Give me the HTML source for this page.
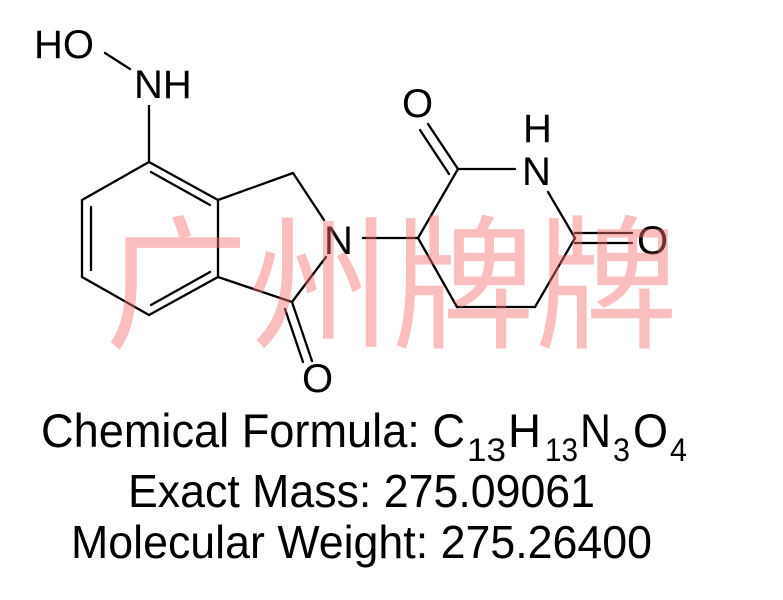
<!DOCTYPE html>
<html><head><meta charset="utf-8"><style>html,body{margin:0;padding:0;background:#fff}svg{display:block}</style></head>
<body>
<svg width="783" height="600" viewBox="0 0 783 600" xmlns="http://www.w3.org/2000/svg">
<g stroke="#000" stroke-width="2.3" fill="none" stroke-linecap="round">
<line x1="105" y1="53" x2="130" y2="69"/>
<line x1="149" y1="106" x2="149" y2="162"/>
<line x1="149" y1="162" x2="82" y2="200"/>
<line x1="82" y1="200" x2="82" y2="277"/>
<line x1="91" y1="207" x2="91" y2="270"/>
<line x1="82" y1="277" x2="149" y2="315"/>
<line x1="149" y1="315" x2="218" y2="277"/>
<line x1="151" y1="305" x2="210" y2="272"/>
<line x1="218" y1="277" x2="218" y2="200"/>
<line x1="218" y1="200" x2="149" y2="162"/>
<line x1="210" y1="205" x2="151" y2="172"/>
<line x1="218" y1="200" x2="293" y2="173"/>
<line x1="293" y1="173" x2="324" y2="220"/>
<line x1="218" y1="277" x2="292" y2="302"/>
<line x1="292" y1="302" x2="326" y2="257"/>
<line x1="292" y1="302" x2="312" y2="361"/>
<line x1="285" y1="309" x2="303" y2="362"/>
<line x1="363" y1="238" x2="418" y2="238"/>
<line x1="418" y1="238" x2="458" y2="169"/>
<line x1="458" y1="169" x2="515" y2="169"/>
<line x1="458" y1="169" x2="428" y2="124"/>
<line x1="449" y1="174" x2="420" y2="130"/>
<line x1="548" y1="192" x2="575" y2="238"/>
<line x1="575" y1="233" x2="632" y2="233"/>
<line x1="575" y1="243" x2="632" y2="243"/>
<line x1="575" y1="238" x2="535" y2="307"/>
<line x1="535" y1="307" x2="457" y2="307"/>
<line x1="457" y1="307" x2="418" y2="238"/>
</g>
<g font-family="Liberation Sans, Arial, sans-serif" font-size="40" fill="#000">
<text x="34" y="58">HO</text>
<text x="134" y="98">NH</text>
<text x="324" y="254">N</text>
<text x="302" y="392">O</text>
<text x="402" y="117">O</text>
<text x="523" y="142">H</text>
<text x="522" y="185">N</text>
<text x="637" y="254">O</text>
</g>
<g font-family="Liberation Sans, Arial, sans-serif" fill="#000">
<text x="41" y="447" font-size="47" textLength="424" lengthAdjust="spacingAndGlyphs">Chemical Formula: C</text>
<text x="467" y="461" font-size="32" textLength="39" lengthAdjust="spacingAndGlyphs">13</text>
<text x="508" y="447" font-size="47" textLength="33" lengthAdjust="spacingAndGlyphs">H</text>
<text x="545" y="461" font-size="32" textLength="33" lengthAdjust="spacingAndGlyphs">13</text>
<text x="580" y="447" font-size="47" textLength="31" lengthAdjust="spacingAndGlyphs">N</text>
<text x="613" y="461" font-size="32" textLength="17" lengthAdjust="spacingAndGlyphs">3</text>
<text x="633" y="447" font-size="47" textLength="35" lengthAdjust="spacingAndGlyphs">O</text>
<text x="670" y="461" font-size="32" textLength="17" lengthAdjust="spacingAndGlyphs">4</text>
<text x="128" y="507" font-size="46" textLength="467" lengthAdjust="spacingAndGlyphs">Exact Mass: 275.09061</text>
<text x="71" y="558" font-size="46" textLength="581" lengthAdjust="spacingAndGlyphs">Molecular Weight: 275.26400</text>
</g>
<text x="105" y="337" font-family="Noto Sans CJK SC, WenQuanYi Zen Hei, sans-serif" font-size="145" fill="rgb(245,110,110)" fill-opacity="0.45" textLength="573" lengthAdjust="spacingAndGlyphs">广州牌牌</text>
</svg>
</body></html>
